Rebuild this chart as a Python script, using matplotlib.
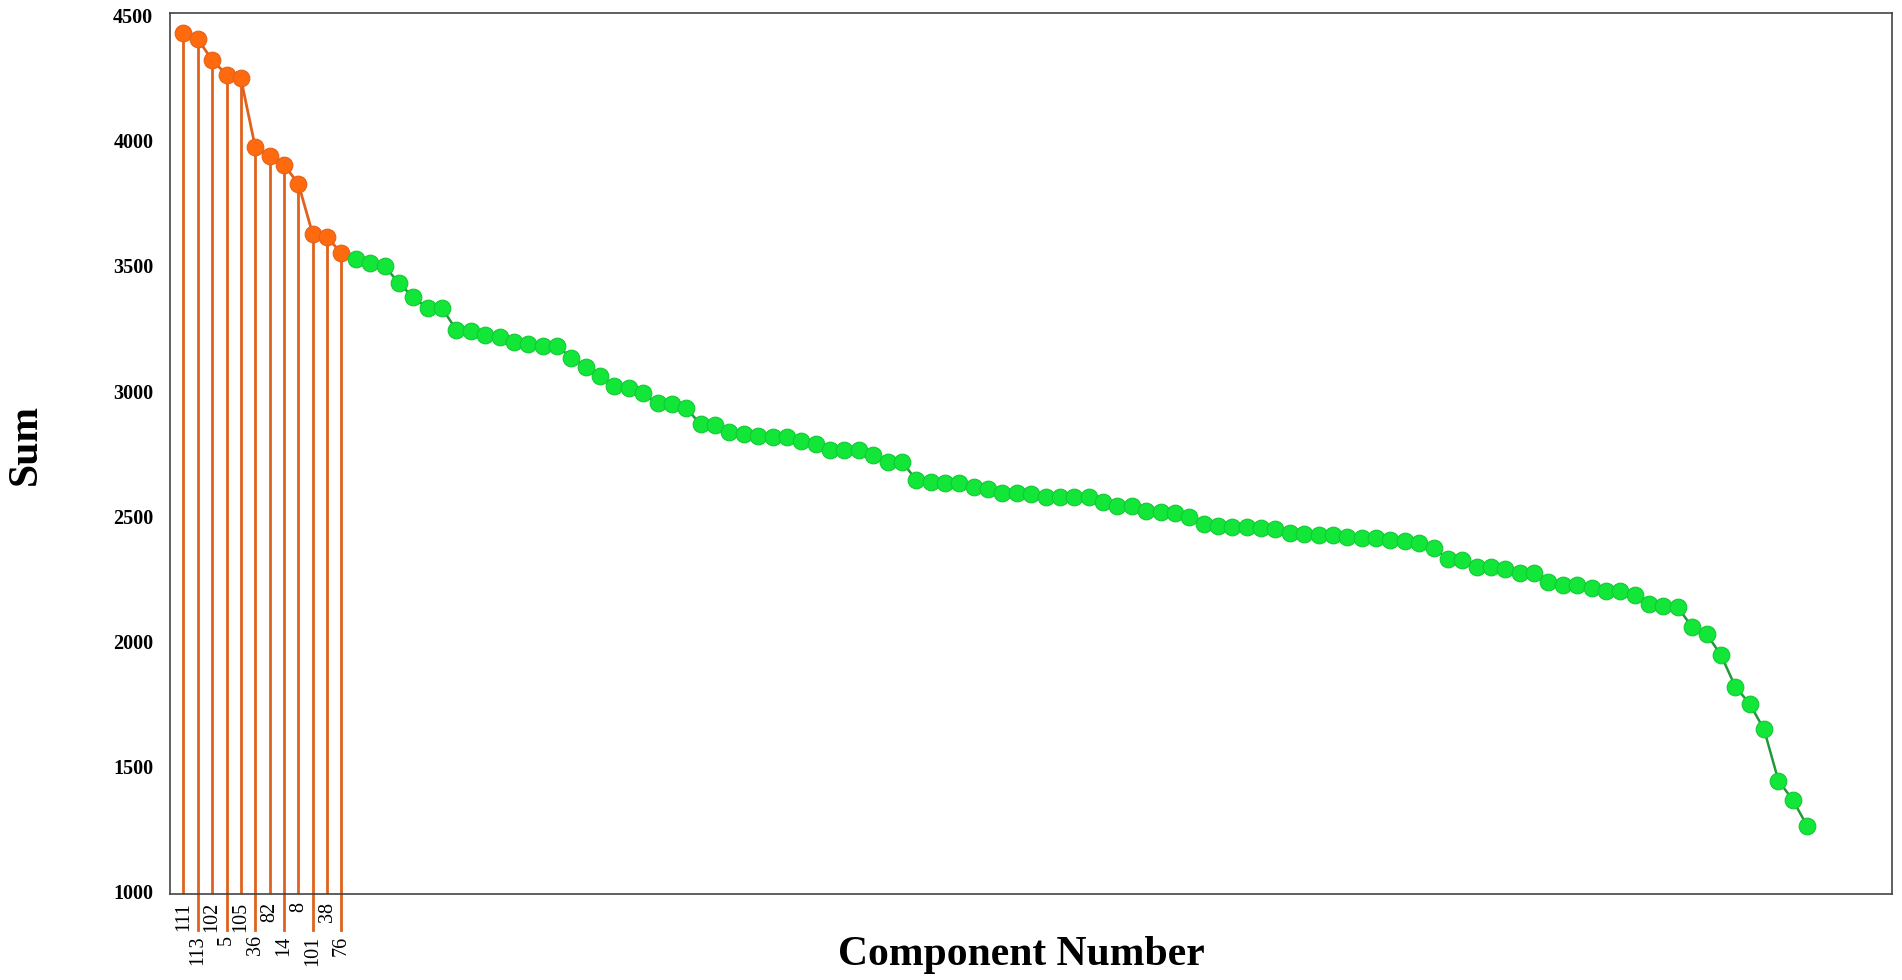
import numpy as np
import matplotlib.pyplot as plt
from matplotlib.transforms import blended_transform_factory

plt.rcParams['font.family'] = ['Liberation Serif', 'DejaVu Serif']

# ======================
# Data
# ======================
top_labels = ['111', '113', '102', '5', '105', '36', '82', '14', '8', '101', '38', '76']
top_sums = [4431, 4407, 4323, 4265, 4250, 3975, 3940, 3904, 3829, 3627, 3615, 3551]

rest_sums = [
    3527, 3513, 3500, 3431, 3375, 3331, 3331, 3244, 3241, 3224,
    3215, 3198, 3187, 3180, 3180, 3134, 3098, 3060, 3022, 3011,
    2991, 2951, 2949, 2931, 2867, 2863, 2836, 2827, 2821, 2815,
    2815, 2802, 2789, 2765, 2765, 2765, 2745, 2718, 2718, 2645,
    2638, 2634, 2632, 2618, 2609, 2594, 2592, 2589, 2578, 2578,
    2576, 2576, 2556, 2542, 2540, 2520, 2518, 2514, 2498, 2469,
    2461, 2458, 2456, 2454, 2448, 2432, 2428, 2425, 2425, 2416,
    2414, 2412, 2405, 2401, 2394, 2374, 2328, 2325, 2298, 2296,
    2287, 2274, 2273, 2237, 2225, 2225, 2214, 2202, 2202, 2185,
    2149, 2141, 2136, 2056, 2029, 1945, 1819, 1750, 1648, 1443,
    1366, 1262,
]

y_ticks = [1000, 1500, 2000, 2500, 3000, 3500, 4000, 4500]

# ======================
# Colours
# ======================
ORANGE = '#FF6A0E'
ORANGE_LINE = '#E0621C'
GREEN = '#12E638'
GREEN_EDGE = '#13C834'
GREEN_LINE = '#1F9A36'

x_top = np.arange(1, len(top_sums) + 1)
x_rest = np.arange(len(top_sums) + 1, len(top_sums) + len(rest_sums) + 1)

fig = plt.figure(figsize=(19.02, 9.8), dpi=100)
ax = fig.add_axes([0.0894, 0.0878, 0.9053, 0.8989])

y_bottom = 990
ax.set_xlim(0.07, 119.9)
ax.set_ylim(y_bottom, 4511)

# stems for highlighted components
ax.vlines(x_top, y_bottom, top_sums, color=ORANGE_LINE, lw=2, zorder=1)
trans = blended_transform_factory(ax.transData, ax.transAxes)
for i, (x, lab) in enumerate(zip(x_top, top_labels)):
    if i % 2 == 1:
        # every second stem runs further down, label in a lower row
        ax.plot([x, x], [0, -0.041], color=ORANGE_LINE, lw=2,
                transform=trans, clip_on=False)
        dy = -0.047
    else:
        dy = -0.009
    ax.text(x, dy, lab, transform=trans, rotation=90, ha='center', va='top',
            fontsize=14.5, color='black')

# series
ax.plot(x_top, top_sums, color=ORANGE_LINE, lw=2, zorder=2)
ax.plot(x_top, top_sums, 'o', ms=12, color=ORANGE, mec=ORANGE_LINE,
        mew=0.8, zorder=3)
ax.plot(x_rest, rest_sums, color=GREEN_LINE, lw=1.8, zorder=2)
ax.plot(x_rest, rest_sums, 'o', ms=12, color=GREEN, mec=GREEN_EDGE,
        mew=0.8, zorder=3)

# axes styling
ax.set_yticks(y_ticks)
ax.set_yticklabels([str(v) for v in y_ticks], fontsize=14.5, fontweight='bold')
ax.tick_params(axis='y', length=0, pad=12)
ax.set_xticks([])
for sp in ax.spines.values():
    sp.set_color('#444444')
    sp.set_linewidth(1.2)

fig.text(0.0135, 0.546, 'Sum', fontsize=30, fontweight='bold', rotation=90,
         ha='center', va='center')
fig.text(0.537, 0.006, 'Component Number', fontsize=30, fontweight='bold',
         ha='center', va='bottom')

fig.savefig('out.png', dpi=100, facecolor='white')
